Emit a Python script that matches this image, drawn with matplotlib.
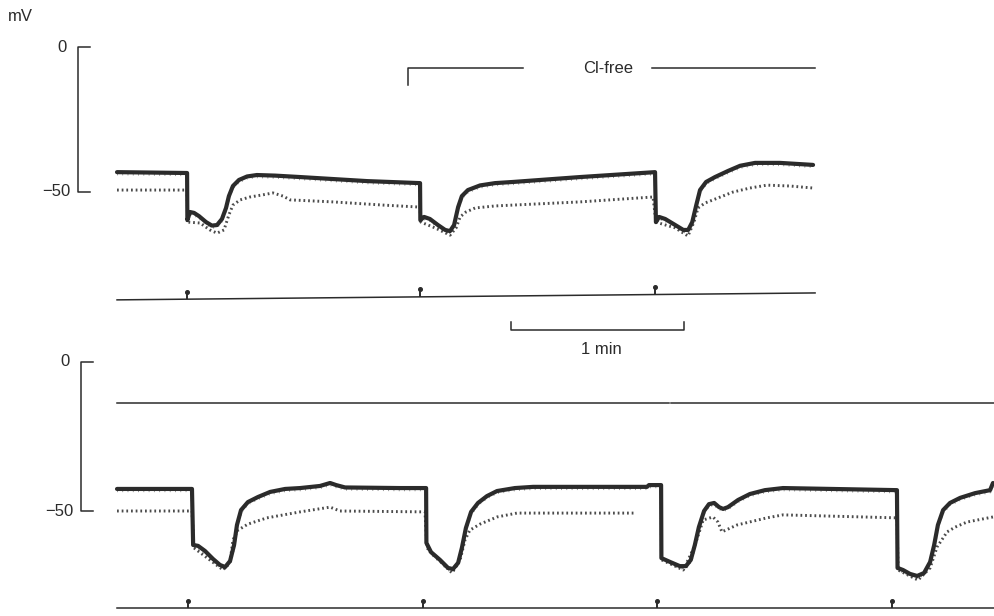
"""
Membrane potential recording: Cl-free superfusion vs control.
Two panels of paired traces (solid = upper trace, dotted = lower trace),
stimulus markers underneath, calibration bars instead of axes.
"""

import matplotlib

matplotlib.use("Agg")
import matplotlib.pyplot as plt
import matplotlib.transforms as mtransforms
import numpy as np

# ---------------------------------------------------------------- data
# time in s, potential in mV

top_solid_t = [0.7, 25.0, 25.1, 26.0, 27.4, 29.1, 31.6, 33.6, 35.4, 37.1, 38.5, 39.5, 40.9,
               43.0, 45.8, 49.2, 55.5, 64.2, 87.4,
               105.8, 105.9, 107.2, 109.2, 112.0, 114.5, 116.2, 117.6, 119.0, 120.3, 122.4,
               126.6, 131.8, 138.0, 161.3, 187.3,
               187.6, 188.7, 190.8, 194.3, 197.1, 198.8, 200.2, 201.6, 202.9, 205.0, 208.1,
               212.6, 216.8, 222.0, 230.6, 242.1]
top_solid_mv = [-43.3, -43.6, -59.9, -57.1, -57.4, -58.5, -60.6, -61.8, -61.6, -59.5, -55.7, -51.6, -48.1,
                -46.0, -44.8, -44.3, -44.5, -45.0, -46.4,
                -47.1, -59.9, -58.8, -59.5, -61.6, -63.3, -63.7, -61.6, -55.4, -51.6, -49.5,
                -47.9, -47.1, -46.7, -45.0, -43.3,
                -60.6, -58.8, -59.5, -61.6, -63.3, -63.3, -60.6, -54.7, -49.5, -46.7, -45.0,
                -42.9, -41.1, -40.1, -40.1, -40.8]

top_dot_t = [0.7, 25.0, 25.3, 29.5, 32.9, 35.4, 37.8, 39.5, 40.9, 43.4, 46.8, 51.0, 54.8,
             58.3, 60.7, 75.6, 93.0, 105.8,
             106.1, 111.0, 116.2, 118.3, 119.7, 121.7, 124.9, 131.8, 138.0, 161.3, 186.6,
             187.6, 194.3, 198.7, 200.8, 202.2, 204.6, 207.4, 214.3, 220.2, 226.1, 234.1, 242.1]
top_dot_mv = [-49.5, -49.5, -60.6, -60.9, -63.3, -64.4, -63.3, -58.1, -54.7, -52.9, -51.9, -51.2, -50.5,
              -51.6, -52.9, -53.6, -54.7, -55.4,
              -60.6, -62.6, -65.1, -62.6, -58.8, -57.1, -55.7, -55.0, -54.7, -53.6, -51.9,
              -60.6, -62.6, -65.4, -60.6, -55.7, -54.0, -52.9, -50.2, -48.8, -47.8, -48.1, -48.8]

bot_solid_t = [0.7, 26.7, 27.1, 28.8, 31.2, 34.0, 36.4, 38.2, 39.9, 41.3, 42.3, 43.7, 46.1,
               49.6, 53.8, 59.0, 64.2, 71.1, 74.6, 76.7, 79.8, 98.8, 107.9,
               108.0, 109.6, 112.7, 115.5, 117.2, 119.0, 120.3, 121.7, 123.5, 125.9, 129.0,
               132.5, 138.7, 145.0, 184.5, 185.2, 189.4,
               189.5, 192.5, 195.9, 198.0, 199.7, 201.1, 202.5, 204.3, 206.0, 207.8, 209.5,
               210.9, 212.6, 216.1, 220.2, 225.4, 231.7, 271.2,
               271.4, 273.3, 275.7, 278.2, 280.6, 282.7, 284.1, 285.4, 287.2, 289.6, 293.1,
               298.3, 303.5, 304.5]
bot_solid_mv = [-42.6, -42.6, -61.4, -61.7, -63.4, -66.1, -68.1, -68.8, -66.8, -61.4, -54.7, -49.7, -47.0,
                -45.3, -43.6, -42.6, -42.3, -41.6, -40.6, -41.3, -42.1, -42.3, -42.3,
                -60.7, -63.8, -66.4, -69.1, -69.5, -67.4, -62.4, -55.7, -50.3, -47.3, -45.0,
                -43.3, -42.3, -41.9, -41.9, -41.3, -41.3,
                -65.8, -67.1, -68.5, -68.5, -66.4, -61.4, -55.4, -50.0, -47.7, -47.3, -48.7,
                -49.3, -48.7, -46.3, -44.3, -43.0, -42.3, -43.0,
                -69.1, -69.8, -71.1, -71.8, -70.8, -67.1, -61.4, -54.7, -49.7, -47.3, -45.6,
                -44.0, -43.0, -40.6]

bot_dot_t = [0.7, 26.7, 27.4, 37.5, 39.9, 40.9, 42.7, 46.1, 52.7, 64.2, 74.6, 78.0, 107.5,
             108.2, 116.9, 119.7, 121.4, 123.1, 126.6, 132.5, 139.4, 180.3, np.nan,
             189.7, 197.1, 201.2, 204.0, 207.4, 209.1, 210.5, 215.7, 226.1, 231.7, 271.2,
             271.6, 278.5, 282.7, 285.1, 288.6, 291.4, 295.5, 304.5]
bot_dot_mv = [-50.0, -50.0, -62.4, -69.8, -67.1, -59.7, -56.4, -54.4, -52.3, -50.3, -48.7, -50.0, -50.3,
              -62.4, -70.8, -66.4, -59.7, -56.4, -54.4, -52.0, -50.7, -50.7, np.nan,
              -66.4, -69.8, -61.4, -53.0, -52.0, -53.7, -57.0, -54.7, -52.3, -51.3, -52.3,
              -69.8, -73.2, -69.1, -62.1, -57.0, -55.4, -53.7, -52.0]

bot_upper_t = [0.7, 192.3, np.nan, 192.8, 304.9]     # flat trace near -14 mV, one break
bot_upper_mv = [-13.8, -13.8, np.nan, -13.8, -13.8]

top_stim_t = [25.0, 105.8, 187.3]
bot_stim_t = [25.3, 106.8, 188.0, 269.5]

top_stim_line_t = [0.7, 242.8]
top_stim_line_mv = [-87.5, -85.1]
bot_stim_line_t = [0.7, 304.9]
bot_stim_line_mv = [-82.6, -82.6]

clfree_start, clfree_end = 101.6, 242.8
clfree_text_t = 171.0
clfree_gap = (141.5, 186.2)

# ---------------------------------------------------------------- layout
W, H, DPI = 994, 616, 100
PX_PER_S = 173 / 60.0
X0_PX = 115                       # pixel column of t = 0
TOP_ZERO_PX, TOP_PX_PER_MV = 47, 2.89
BOT_ZERO_PX, BOT_PX_PER_MV = 362, 2.98
SPLIT_PX = 355

INK = "#2b2b2b"
THIN = 1.1
FS = 12

plt.rcParams["font.family"] = ["Liberation Sans", "DejaVu Sans"]

fig = plt.figure(figsize=(W / DPI, H / DPI), dpi=DPI)
fig.patch.set_facecolor("white")

xlim = (-X0_PX / PX_PER_S, (W - X0_PX) / PX_PER_S)

ax_top = fig.add_axes([0, 1 - SPLIT_PX / H, 1, SPLIT_PX / H])
ax_top.set_xlim(xlim)
ax_top.set_ylim(-(SPLIT_PX - TOP_ZERO_PX) / TOP_PX_PER_MV, TOP_ZERO_PX / TOP_PX_PER_MV)

ax_bot = fig.add_axes([0, 0, 1, 1 - SPLIT_PX / H])
ax_bot.set_xlim(xlim)
ax_bot.set_ylim(-(H - BOT_ZERO_PX) / BOT_PX_PER_MV, (BOT_ZERO_PX - SPLIT_PX) / BOT_PX_PER_MV)

for ax in (ax_top, ax_bot):
    ax.set_axis_off()
    ax.patch.set_alpha(0)


def draw_pair(ax, st, smv, dt, dmv):
    # lower trace: dotted
    ax.plot(dt, dmv, color=INK, lw=2.1, dashes=(0.6, 1.0), alpha=0.85,
            dash_capstyle="butt", clip_on=False)
    # upper trace: heavy line with a hairy fringe underneath
    ax.plot(st, smv, color=INK, lw=3.0, solid_joinstyle="round",
            solid_capstyle="round", clip_on=False)
    fringe = mtransforms.offset_copy(ax.transData, fig=fig, y=-1.3, units="points")
    ax.plot(st, smv, color=INK, lw=2.0, alpha=0.55, dashes=(0.3, 1.6),
            transform=fringe, clip_on=False)


def draw_stim(ax, line_t, line_mv, stim_t, height):
    ax.plot(line_t, line_mv, color=INK, lw=THIN, clip_on=False)
    base = np.interp(stim_t, line_t, line_mv)
    ax.vlines(stim_t, base, base + height, color=INK, lw=THIN + 0.3, clip_on=False)
    ax.plot(stim_t, base + height, "o", ms=2.6, color=INK, clip_on=False)


def draw_calib(ax, t_bar):
    tick = 12 / PX_PER_S
    ax.plot([t_bar + tick, t_bar, t_bar, t_bar + tick], [0, 0, -50, -50],
            color=INK, lw=THIN, clip_on=False)
    ax.text(t_bar - 4.0, 0, "0", ha="right", va="center", fontsize=FS, color=INK)
    ax.text(t_bar - 2.5, -50, "\u221250", ha="right", va="center", fontsize=FS, color=INK)


# ---- top panel
draw_pair(ax_top, top_solid_t, top_solid_mv, top_dot_t, top_dot_mv)
draw_stim(ax_top, top_stim_line_t, top_stim_line_mv, top_stim_t, 2.6)
draw_calib(ax_top, -12.8)
ax_top.text(-37.1, 10.4, "mV", ha="left", va="center", fontsize=FS, color=INK)

# Cl-free bar
bar_mv = -7.3
ax_top.plot([clfree_start, clfree_start, clfree_gap[0]], [bar_mv - 6.0, bar_mv, bar_mv],
            color=INK, lw=THIN, clip_on=False)
ax_top.plot([clfree_gap[1], clfree_end], [bar_mv, bar_mv], color=INK, lw=THIN, clip_on=False)
ax_top.text(clfree_text_t, bar_mv, "Cl-free", ha="center", va="center", fontsize=FS, color=INK)

# 1 min time bar
sb_t0, sb_mv = 137.3, -97.9
ax_top.plot([sb_t0, sb_t0, sb_t0 + 60, sb_t0 + 60], [sb_mv + 2.8, sb_mv, sb_mv, sb_mv + 2.8],
            color=INK, lw=THIN, clip_on=False)
ax_top.text(sb_t0 + 30 + 1.5, -104.5, "1 min", ha="center", va="center", fontsize=FS, color=INK)

# ---- bottom panel
draw_pair(ax_bot, bot_solid_t, bot_solid_mv, bot_dot_t, bot_dot_mv)
ax_bot.plot(bot_upper_t, bot_upper_mv, color=INK, lw=THIN, clip_on=False)
draw_stim(ax_bot, bot_stim_line_t, bot_stim_line_mv, bot_stim_t, 2.4)
draw_calib(ax_bot, -11.9)

fig.savefig("out.png", dpi=DPI, facecolor="white")
plt.close(fig)
